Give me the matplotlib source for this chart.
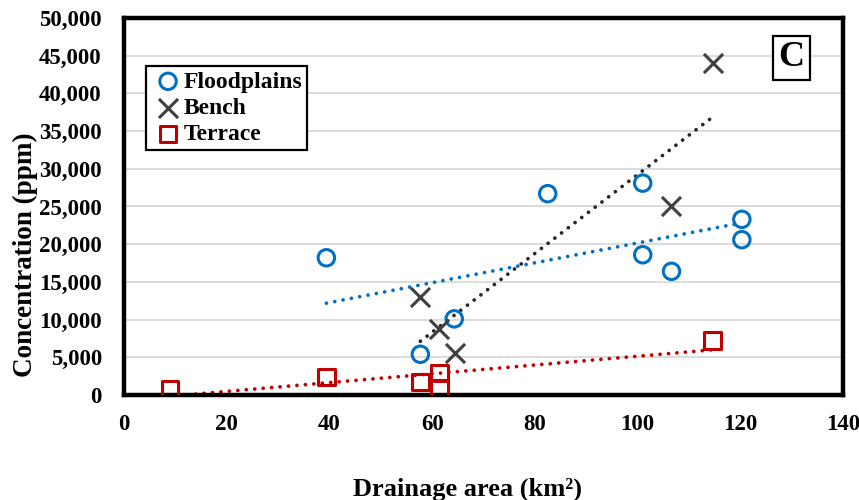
import numpy as np
import matplotlib
matplotlib.use("Agg")
import matplotlib.pyplot as plt
from matplotlib.ticker import FuncFormatter, MultipleLocator

plt.rcParams['font.family'] = ['Liberation Serif', 'DejaVu Serif']
plt.rcParams['font.weight'] = 'bold'

# Drainage area (km²) and concentration (ppm) for each landform
flood_x = [39.4, 57.7, 64.3, 82.5, 101.0, 101.0, 106.6, 120.3, 120.3]
flood_y = [18200, 5400, 10100, 26700, 28100, 18600, 16400, 23300, 20600]

bench_x = [57.7, 61.4, 64.5, 106.6, 114.6]
bench_y = [13000, 8700, 5600, 25100, 44000]

terrace_x = [9.0, 39.4, 57.7, 61.4, 61.4, 114.6]
terrace_y = [800, 2400, 1700, 2900, 900, 7200]

blue = '#0070C0'
dark = '#404040'
red = '#C00000'

fig = plt.figure(figsize=(8.59, 5.0), dpi=100)
ax = fig.add_axes([0.1444, 0.21, 0.837, 0.754])

ax.set_xlim(0, 140)
ax.set_ylim(0, 50000)
ax.xaxis.set_major_locator(MultipleLocator(20))
ax.yaxis.set_major_locator(MultipleLocator(5000))
ax.yaxis.set_major_formatter(FuncFormatter(lambda v, p: f"{int(v):,}"))
ax.grid(axis='y', color='#D9D9D9', linewidth=1.3, zorder=0)
ax.set_axisbelow(True)

def trend(x, y, color):
    x = np.asarray(x, float)
    k, b = np.polyfit(x, np.asarray(y, float), 1)
    xs = np.linspace(x.min(), x.max(), 2)
    ax.plot(xs, k * xs + b, linestyle=(0, (0.01, 2.25)), color=color,
            linewidth=2.7, dash_capstyle='round', solid_capstyle='round',
            zorder=2)

trend(flood_x, flood_y, blue)
trend(bench_x, bench_y, '#262626')
trend(terrace_x, terrace_y, red)

ax.scatter(flood_x, flood_y, s=140, marker='o', facecolors='none',
           edgecolors=blue, linewidths=2.2, label='Floodplains', zorder=3)
ax.scatter(bench_x, bench_y, s=190, marker='x', color=dark,
           linewidths=2.2, label='Bench', zorder=3)
ax.scatter(terrace_x, terrace_y, s=140, marker='s', facecolors='none',
           edgecolors=red, linewidths=2.2, label='Terrace', zorder=3)

for s in ax.spines.values():
    s.set_linewidth(3.2)
    s.set_color('black')
ax.tick_params(axis='y', length=0, labelsize=16.5, pad=16)
ax.tick_params(axis='x', length=0, labelsize=16.5, pad=14)
for lab in ax.get_xticklabels() + ax.get_yticklabels():
    lab.set_fontweight('bold')

ax.set_ylabel('Concentration (ppm)', fontsize=19.5, fontweight='bold')
ax.yaxis.set_label_coords(-0.12, 0.371)
ax.set_xlabel('Drainage area (km²)', fontsize=19, fontweight='bold')
ax.xaxis.set_label_coords(0.478, -0.218)

leg = ax.legend(loc='upper left', bbox_to_anchor=(0.03, 0.872), frameon=True,
                fancybox=False, edgecolor='black', handletextpad=-0.1,
                borderpad=0.2, labelspacing=0.2, handlelength=1.5,
                borderaxespad=0.0,
                prop={'family': 'Liberation Serif', 'weight': 'bold', 'size': 17})
leg.get_frame().set_linewidth(1.6)
leg.get_frame().set_alpha(1)

ax.text(0.928, 0.894, 'C', transform=ax.transAxes, fontsize=26,
        fontweight='bold', ha='center', va='center',
        bbox=dict(boxstyle='square,pad=0.15', facecolor='white',
                  edgecolor='black', linewidth=1.6))

fig.savefig('out.png', dpi=100)
